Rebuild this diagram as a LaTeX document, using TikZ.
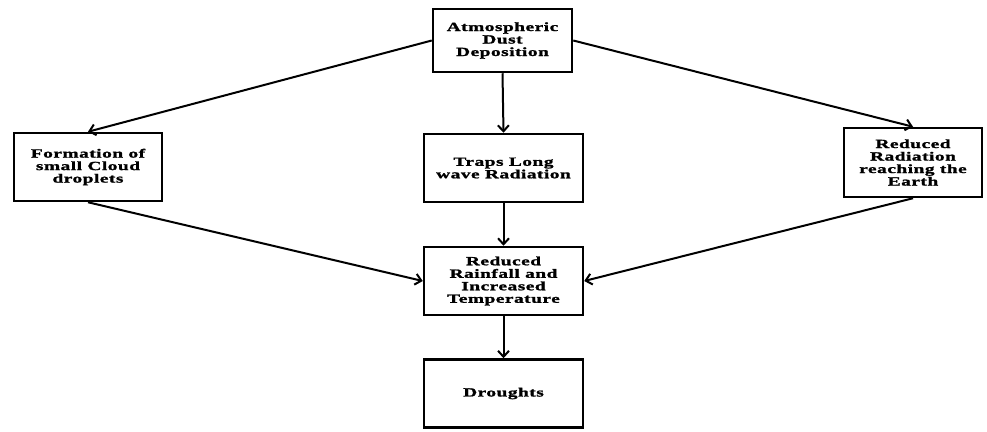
\documentclass[tikz,border=0pt]{standalone}
\usepackage{fontspec}
\setmainfont[FakeStretch=1.55,LetterSpace=4,
  BoldFeatures={FakeStretch=1.55,LetterSpace=4,FakeBold=1.5}]{Liberation Serif}
\usetikzlibrary{arrows.meta}

\begin{document}
\begin{tikzpicture}[x=1pt,y=-1pt]
  % styles
  \tikzset{box/.style = {draw, line width=2.5pt, align=center, inner sep=0pt,
      font=\fontsize{12.5}{12.5}\selectfont\bfseries}}
  \tikzset{flow/.style = {draw, line width=2pt, -{Straight Barb[length=6pt,width=11pt]}}}

  \useasboundingbox (0,0) rectangle (987,431);

  % boxes
  \node[box, minimum width=139pt, minimum height=63pt] (dust) at (502.5,40.5) {Atmospheric\\Dust\\Deposition};
  \node[box, minimum width=148pt, minimum height=68pt] (cloud) at (88,167) {Formation of\\small Cloud\\droplets};
  \node[box, minimum width=159pt, minimum height=68pt] (traps) at (503.5,168) {Traps Long\\wave Radiation};
  \node[box, minimum width=138pt, minimum height=69pt] (earth) at (913,162.5) {Reduced\\Radiation\\reaching the\\Earth};
  \node[box, minimum width=159pt, minimum height=68pt] (rain) at (503.5,281) {Reduced\\Rainfall and\\Increased\\Temperature};
  \node[box, minimum width=159pt, minimum height=68pt] (drought) at (503.5,393.5) {Droughts};

  % arrows
  \draw[flow] (dust.west) -- (cloud.north);
  \draw[flow] (dust.south) -- (traps.north);
  \draw[flow] (dust.east) -- (earth.north);
  \draw[flow] (cloud.south) -- (rain.west);
  \draw[flow] (traps.south) -- (rain.north);
  \draw[flow] (earth.south) -- (rain.east);
  \draw[flow] (rain.south) -- (drought.north);
\end{tikzpicture}
\end{document}
